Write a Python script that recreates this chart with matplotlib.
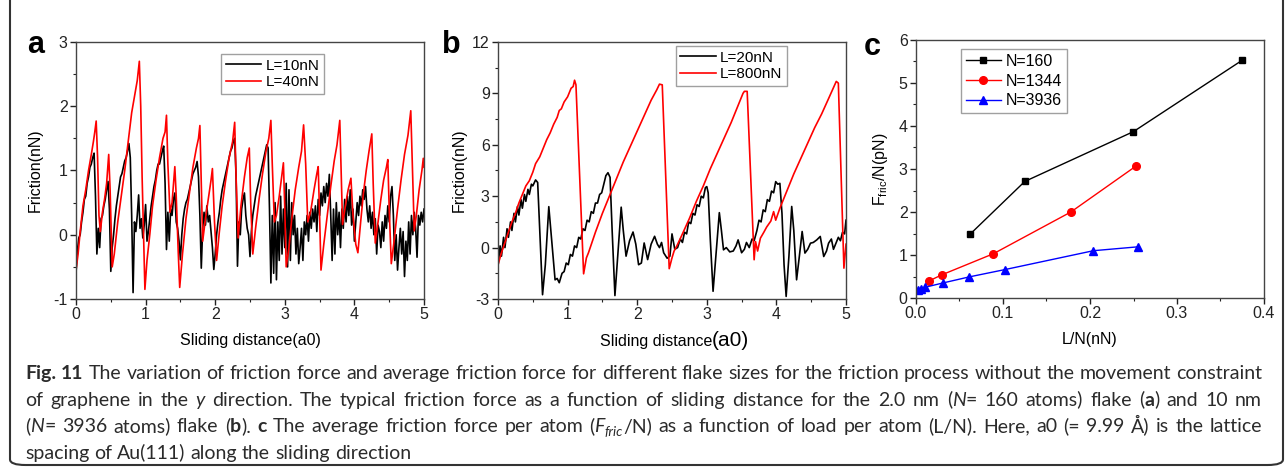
import numpy as np
import matplotlib
matplotlib.use("Agg")
import matplotlib.pyplot as plt
from matplotlib.ticker import MultipleLocator, FormatStrFormatter
from matplotlib.patches import FancyBboxPatch
from matplotlib import font_manager

# ---- panel a : L=10nN (black) and L=40nN (red), 2.0 nm flake
a_black_x = np.round(np.arange(0, 5.001, 0.02), 2)
a_black_y = [
    -0.60, -0.25, -0.05, 0.00, 0.20, 0.35, 0.55, 0.60, 0.80, 0.90,
    1.05, 1.10, 1.20, 1.27, 0.60, -0.30, 0.10, -0.20, 0.25, 0.30,
    0.45, 0.55, 0.70, 0.83, 0.40, -0.57, -0.20, 0.00, 0.25, 0.45,
    0.60, 0.75, 0.90, 0.95, 1.05, 1.15, 1.20, 1.30, 1.42, 1.20,
    0.30, -0.90, 0.20, 0.05, 0.30, 0.62, 0.10, 0.25, -0.05, 0.15,
    0.47, -0.10, 0.05, 0.25, 0.45, 0.60, 0.75, 0.85, 1.00, 1.10,
    1.10, 1.20, 1.30, 1.38, 0.80, -0.23, 0.35, -0.10, 0.40, 0.30,
    0.55, 0.65, 0.20, 0.10, -0.10, -0.39, 0.00, 0.25, 0.40, 0.50,
    0.55, 0.65, 0.75, 0.85, 0.95, 1.00, 1.05, 1.14, 0.90, 0.30,
    -0.52, 0.10, 0.35, 0.15, 0.45, 0.20, 0.30, 0.05, -0.20, -0.54,
    -0.30, 0.00, 0.20, 0.35, 0.55, 0.70, 0.80, 0.90, 1.00, 1.10,
    1.20, 1.30, 1.35, 1.45, 1.50, 0.90, -0.49, 0.20, 0.00, 0.40,
    0.55, 0.65, 0.30, 0.10, 0.00, -0.34, 0.05, 0.30, 0.45, 0.60,
    0.70, 0.80, 0.90, 1.00, 1.10, 1.20, 1.30, 1.40, 1.35, 0.40,
    -0.75, 0.30, -0.60, 0.50, -0.70, 0.20, -0.40, 0.60, -0.30, 0.40,
    -0.20, 0.80, -0.50, 0.70, -0.40, 0.50, 0.00, 0.30, -0.30, 0.10,
    -0.45, -0.20, 0.10, -0.40, 0.20, 0.00, 0.30, -0.10, 0.35, 0.10,
    0.40, 0.20, 0.45, 0.05, 0.55, 0.30, 0.65, 0.45, 0.75, 0.50,
    0.80, 0.60, 0.94, 0.30, -0.40, 0.40, -0.30, 0.50, 0.00, 0.35,
    -0.20, 0.40, 0.10, 0.55, 0.20, 0.60, 0.30, 0.70, 0.15, 0.40,
    -0.10, 0.20, 0.50, 0.30, 0.60, 0.45, 0.70, 0.55, 0.75, 0.40,
    0.20, 0.45, 0.10, 0.35, 0.00, 0.25, -0.30, 0.15, 0.05, -0.20,
    0.20, -0.10, 0.30, 0.10, 0.45, 0.20, 0.60, 0.75, 0.30, -0.40,
    0.00, -0.55, -0.20, 0.10, -0.30, 0.05, -0.65, -0.10, -0.40, 0.20,
    -0.30, 0.30, 0.00, 0.35, 0.10, -0.35, 0.30, 0.15, 0.35, 0.20, 0.40,
]
a_red_x = [
    0.00, 0.03, 0.06, 0.10, 0.14, 0.18, 0.22, 0.25, 0.27, 0.29, 0.31, 0.33, 0.35,
    0.38, 0.41, 0.44, 0.47, 0.49, 0.52, 0.55, 0.60, 0.65, 0.70, 0.75, 0.80, 0.84,
    0.88, 0.91, 0.93, 0.95, 0.97, 0.99, 1.02, 1.06, 1.10, 1.15, 1.20, 1.25, 1.28,
    1.30, 1.32, 1.35, 1.38, 1.42, 1.44, 1.47, 1.49, 1.53, 1.58, 1.63, 1.68, 1.73,
    1.76, 1.78, 1.80, 1.82, 1.86, 1.90, 1.94, 1.96, 1.99, 2.02, 2.06, 2.10, 2.15,
    2.20, 2.25, 2.28, 2.30, 2.33, 2.37, 2.42, 2.46, 2.49, 2.51, 2.54, 2.58, 2.63,
    2.68, 2.73, 2.77, 2.80, 2.82, 2.85, 2.88, 2.92, 2.96, 2.98, 3.00, 3.02, 3.06,
    3.10, 3.15, 3.20, 3.24, 3.27, 3.30, 3.33, 3.37, 3.42, 3.46, 3.48, 3.50, 3.52,
    3.56, 3.61, 3.66, 3.71, 3.75, 3.79, 3.81, 3.83, 3.87, 3.91, 3.95, 3.98, 4.02,
    4.05, 4.09, 4.13, 4.17, 4.21, 4.25, 4.27, 4.30, 4.34, 4.38, 4.42, 4.46, 4.48,
    4.50, 4.53, 4.57, 4.62, 4.67, 4.72, 4.77, 4.81, 4.83, 4.86, 4.89, 4.93, 4.97,
    4.99, 5.00,
]
a_red_y = [
    -0.55, -0.30, 0.05, 0.45, 0.70, 1.00, 1.25, 1.45, 1.60, 1.77, 1.20, 0.30, 0.05,
    0.35, 0.55, 0.80, 1.25, 0.70, -0.50, -0.30, 0.20, 0.60, 1.00, 1.45, 1.90, 2.15,
    2.40, 2.70, 2.00, 0.90, 0.00, -0.85, -0.40, 0.00, 0.45, 0.85, 1.20, 1.50, 1.60,
    1.86, 1.10, 0.35, 0.50, 1.06, 0.60, -0.30, -0.82, -0.30, 0.25, 0.65, 1.05, 1.35,
    1.50, 1.70, 0.80, -0.10, 0.25, 0.55, 0.85, 1.03, 0.20, -0.40, 0.05, 0.45, 0.85,
    1.20, 1.45, 1.75, 0.90, -0.05, 0.45, 0.90, 1.20, 1.35, 0.50, -0.30, 0.10, 0.55,
    0.95, 1.30, 1.50, 1.78, 1.10, 0.20, 0.30, 0.60, 0.95, 1.12, 0.40, -0.50, -0.20,
    0.25, 0.70, 1.05, 1.30, 1.71, 1.10, 0.20, 0.35, 0.70, 0.95, 1.06, 0.30, -0.55,
    -0.15, 0.30, 0.75, 1.15, 1.40, 1.78, 1.00, 0.16, 0.45, 0.70, 0.88, 0.30, -0.15,
    -0.28, 0.20, 0.65, 1.00, 1.30, 1.57, 0.80, -0.13, 0.20, 0.55, 0.85, 1.05, 1.17,
    0.40, -0.45, -0.10, 0.40, 0.85, 1.25, 1.55, 1.93, 1.20, 0.06, 0.30, 0.70, 1.00,
    1.19, 1.05,
]

# ---- panel b : L=20nN (black) and L=800nN (red), 10 nm flake
b_black_x = [
    0.00, 0.03, 0.05, 0.08, 0.10, 0.13, 0.15, 0.18, 0.20, 0.23, 0.25, 0.28, 0.30,
    0.33, 0.35, 0.38, 0.40, 0.43, 0.45, 0.48, 0.50, 0.54, 0.57, 0.60, 0.64, 0.68,
    0.73, 0.77, 0.82, 0.85, 0.88, 0.92, 0.95, 0.98, 1.01, 1.04, 1.07, 1.10, 1.13,
    1.16, 1.19, 1.22, 1.25, 1.28, 1.31, 1.34, 1.37, 1.40, 1.43, 1.46, 1.49, 1.52,
    1.55, 1.58, 1.61, 1.64, 1.68, 1.72, 1.77, 1.80, 1.84, 1.89, 1.94, 1.98, 2.02,
    2.06, 2.10, 2.15, 2.20, 2.25, 2.29, 2.32, 2.35, 2.38, 2.43, 2.47, 2.50, 2.54,
    2.58, 2.62, 2.65, 2.68, 2.71, 2.74, 2.77, 2.80, 2.83, 2.86, 2.89, 2.92, 2.95,
    2.98, 3.00, 3.02, 3.05, 3.09, 3.13, 3.18, 3.21, 3.24, 3.28, 3.33, 3.38, 3.42,
    3.45, 3.50, 3.54, 3.57, 3.61, 3.65, 3.68, 3.72, 3.75, 3.78, 3.81, 3.84, 3.87,
    3.90, 3.93, 3.96, 3.99, 4.02, 4.05, 4.08, 4.11, 4.14, 4.18, 4.22, 4.25, 4.29,
    4.33, 4.37, 4.41, 4.45, 4.49, 4.53, 4.58, 4.63, 4.68, 4.72, 4.75, 4.79, 4.82,
    4.86, 4.89, 4.92, 4.95, 4.98, 5.00,
]
b_black_y = [
    -1.10, 0.10, -0.50, 0.60, 0.00, 1.10, 0.60, 1.50, 1.00, 2.00, 1.50, 2.40, 1.90,
    2.80, 2.30, 3.10, 2.70, 3.40, 3.10, 3.70, 3.60, 3.95, 3.80, 1.00, -2.75, -1.00,
    2.39, 0.50, -1.88, -1.80, -2.05, -1.50, -1.40, -0.90, -1.00, -0.40, -0.50, 0.10, 0.00,
    0.60, 0.50, 1.10, 1.00, 1.60, 1.50, 2.10, 2.00, 2.60, 2.60, 3.10, 3.20, 3.70,
    4.20, 4.37, 4.10, 1.00, -2.80, -0.50, 2.36, 1.00, -0.50, 0.40, 0.91, 0.20, -1.00,
    -0.90, 0.27, -0.70, 0.20, 0.66, 0.20, 0.00, 0.30, -0.30, -0.62, -0.50, 0.80, -0.10,
    0.00, 0.50, 0.30, 0.90, 0.80, 1.50, 1.40, 2.00, 1.90, 2.50, 2.40, 3.00, 2.90,
    3.50, 3.56, 3.20, 0.50, -2.55, -0.50, 2.04, 1.00, -0.13, 0.00, -0.25, -0.20, 0.10,
    0.45, -0.30, -0.10, 0.30, 0.00, 0.50, 0.40, 1.00, 1.60, 1.50, 2.20, 2.10, 2.80,
    2.70, 3.30, 3.20, 3.85, 3.70, 3.75, 2.00, -1.00, -2.85, -0.50, 2.40, 1.00, -1.88,
    -0.50, 0.94, -0.32, -0.10, 0.26, 0.30, 0.45, 0.65, -0.52, -0.20, 0.26, 0.50, -0.10,
    0.30, 0.60, 0.40, 0.90, 0.80, 1.60,
]
b_red_x = [
    0.00, 0.05, 0.10, 0.15, 0.20, 0.25, 0.30, 0.35, 0.40, 0.45, 0.50, 0.54, 0.60,
    0.65, 0.70, 0.75, 0.80, 0.85, 0.88, 0.91, 0.95, 1.00, 1.05, 1.08, 1.10, 1.12,
    1.23, 1.27, 1.30, 1.40, 1.50, 1.60, 1.70, 1.80, 1.90, 2.00, 2.10, 2.20, 2.28,
    2.32, 2.36, 2.46, 2.50, 2.53, 2.57, 2.65, 2.75, 2.85, 2.95, 3.05, 3.15, 3.25,
    3.35, 3.45, 3.52, 3.54, 3.58, 3.68, 3.70, 3.73, 3.77, 3.82, 3.86, 3.92, 3.96,
    3.99, 4.05, 4.15, 4.25, 4.35, 4.45, 4.55, 4.65, 4.75, 4.86, 4.89, 4.97, 5.00,
]
b_red_y = [
    -1.00, -0.30, 0.30, 0.90, 1.50, 2.00, 2.60, 3.10, 3.60, 3.90, 4.40, 4.90, 5.30,
    5.80, 6.30, 6.70, 7.20, 7.60, 8.00, 8.10, 8.50, 8.80, 9.30, 9.40, 9.77, 9.50,
    -1.53, -0.60, -0.30, 0.90, 2.00, 3.00, 4.00, 5.00, 5.90, 6.80, 7.70, 8.60, 9.20,
    9.54, 9.50, -1.23, -0.60, -0.20, 0.10, 0.80, 1.70, 2.70, 3.60, 4.60, 5.50, 6.40,
    7.30, 8.30, 9.00, 9.12, 9.12, -0.71, 0.35, -0.20, 0.55, 0.90, 1.20, 1.55, 2.10,
    1.60, 2.30, 3.30, 4.30, 5.20, 6.10, 7.00, 7.80, 8.70, 9.70, 9.60, -1.20, 0.20,
]

# ---- panel c : average friction per atom vs load per atom
c_n160_x = [0.0625, 0.125, 0.25, 0.375]
c_n160_y = [1.49, 2.71, 3.87, 5.53]
c_n1344_x = [0.0153, 0.0298, 0.089, 0.178, 0.253]
c_n1344_y = [0.40, 0.54, 1.03, 2.00, 3.07]
c_n3936_x = [0.002, 0.006, 0.0105, 0.031, 0.061, 0.102, 0.204, 0.255]
c_n3936_y = [0.18, 0.21, 0.25, 0.35, 0.49, 0.66, 1.10, 1.19]

caption = [
    [("Fig. 11", "b"), (" The variation of friction force and average friction force for different "
                        "flake sizes for the friction process without the movement constraint", "n")],
    [("of graphene in the ", "n"), ("y", "i"),
     (" direction. The typical friction force as a function of sliding distance for the 2.0 nm (", "n"),
     ("N", "i"), ("= 160 atoms) flake (", "n"), ("a", "b"), (") and 10 nm", "n")],
    [("(", "n"), ("N", "i"), ("= 3936 atoms) flake (", "n"), ("b", "b"), ("). ", "n"), ("c", "b"),
     (" The average friction force per atom (", "n"), ("F", "i"), ("fric", "s"),
     ("/N) as a function of load per atom (L/N). Here, a0 (= 9.99 Å) is the lattice", "n")],
    [("spacing of Au(111) along the sliding direction", "n")],
]

plt.rcParams["font.family"] = ["Liberation Sans", "DejaVu Sans"]
plt.rcParams["axes.unicode_minus"] = False
plt.rcParams["mathtext.fontset"] = "custom"
plt.rcParams["mathtext.rm"] = "Liberation Sans"

W, H = 1287, 469
fig = plt.figure(figsize=(W / 100, H / 100), dpi=100)


def px_axes(left, top, right, bottom):
    return fig.add_axes([left / W, 1 - bottom / H, (right - left) / W, (bottom - top) / H])


def style(ax, xmaj, xmin, ymaj, ymin):
    ax.xaxis.set_major_locator(MultipleLocator(xmaj))
    ax.xaxis.set_minor_locator(MultipleLocator(xmin))
    ax.yaxis.set_major_locator(MultipleLocator(ymaj))
    ax.yaxis.set_minor_locator(MultipleLocator(ymin))
    ax.tick_params(which="both", direction="out", top=False, right=False,
                   labelsize=11.5, colors="#222222", pad=2)
    ax.tick_params(which="major", length=4, width=1)
    ax.tick_params(which="minor", length=2.5, width=0.8)
    for s in ax.spines.values():
        s.set_color("#444444")
        s.set_linewidth(1.0)


leg_kw = dict(frameon=True, fancybox=False, edgecolor="#888888", borderaxespad=0,
              handlelength=2.3, handletextpad=0.3, labelspacing=0.15, borderpad=0.3,
              fontsize=11)

# panel a
ax1 = px_axes(76, 42, 424, 299)
ax1.plot(a_black_x, a_black_y, color="black", lw=1.2, label="L=10nN")
ax1.plot(a_red_x, a_red_y, color="red", lw=1.2, label="L=40nN")
ax1.set_xlim(0, 5)
ax1.set_ylim(-1, 3)
style(ax1, 1, 0.5, 1, 0.5)
ax1.set_ylabel("Friction(nN)", fontsize=11.5, labelpad=8)
ax1.set_xlabel("Sliding distance(a0)", fontsize=11.5, labelpad=8)
ax1.legend(loc="upper left", bbox_to_anchor=(0.417, 0.953), **leg_kw)

# panel b
ax2 = px_axes(498, 42, 846, 299)
ax2.plot(b_black_x, b_black_y, color="black", lw=1.2, label="L=20nN")
ax2.plot(b_red_x, b_red_y, color="red", lw=1.2, label="L=800nN")
ax2.set_xlim(0, 5)
ax2.set_ylim(-3, 12)
style(ax2, 1, 0.5, 3, 1.5)
ax2.set_ylabel("Friction(nN)", fontsize=11.5, labelpad=4)
ax2.text(0.615, -0.165, "Sliding distance", transform=ax2.transAxes, ha="right",
         va="center", fontsize=11.5)
ax2.text(0.615, -0.16, "(a0)", transform=ax2.transAxes, ha="left", va="center",
         fontsize=15)
ax2.legend(loc="upper left", bbox_to_anchor=(0.511, 0.984), **leg_kw)

# panel c
ax3 = px_axes(916, 40, 1264, 298)
ax3.plot(c_n160_x, c_n160_y, color="black", lw=1, marker="s", ms=4.5, label="N=160")
ax3.plot(c_n1344_x, c_n1344_y, color="red", lw=1, marker="o", ms=5.5, label="N=1344")
ax3.plot(c_n3936_x, c_n3936_y, color="blue", lw=1, marker="^", ms=5.5, label="N=3936")
ax3.set_xlim(0, 0.4)
ax3.set_ylim(0, 6)
style(ax3, 0.1, 0.05, 1, 0.5)
ax3.xaxis.set_major_formatter(FormatStrFormatter("%.1f"))
ax3.set_ylabel(r"F$_{\mathregular{fric}}$/N(pN)", fontsize=11.5, labelpad=6)
ax3.set_xlabel("L/N(nN)", fontsize=11.5, labelpad=8)
ax3.legend(loc="upper left", bbox_to_anchor=(0.129, 0.965),
           **dict(leg_kw, handlelength=2.2, labelspacing=0.3, fontsize=11.5))

# panel letters
for x, y, s in [(27, 45, "a"), (442, 45, "b"), (864, 47, "c")]:
    fig.text(x / W, 1 - y / H, s, fontsize=22, fontweight="bold", va="center", ha="left")

# border around the whole figure
fig.patches.append(FancyBboxPatch((10 / W, 1 - 465 / H), 1273 / W, 480 / H,
                                  boxstyle="round,pad=0,rounding_size=0.012",
                                  transform=fig.transFigure, fill=False,
                                  ec="#333333", lw=1.5))

# caption, justified word by word
renderer = fig.canvas.get_renderer()
installed = {f.name for f in font_manager.fontManager.ttflist}
cap_font = ["Liberation Sans Narrow", "Lato"] if "Liberation Sans Narrow" in installed else ["Lato"]
cap_color = "#2b2b2b"


def word_kw(st, size):
    kw = dict(family=cap_font, color=cap_color, fontsize=size, ha="left", va="baseline")
    if st == "b":
        kw["fontweight"] = "bold"
    if st in ("i", "s"):
        kw["fontstyle"] = "italic"
    if st == "s":
        kw["fontsize"] = size * 0.7
    return kw


def split_words(segs):
    words, space = [], False
    for text, st in segs:
        for k, p in enumerate(text.split(" ")):
            if k > 0:
                space = True
            if p:
                words.append((p, st, space))
                space = False
    return words


def measure(words, size):
    out = []
    for p, st, sp in words:
        t = fig.text(0, 0, p, **word_kw(st, size))
        out.append((t, t.get_window_extent(renderer).width, sp, st))
    return out


def space_width(size):
    t1 = fig.text(0, 0, "a a", **word_kw("n", size))
    t2 = fig.text(0, 0, "aa", **word_kw("n", size))
    w = t1.get_window_extent(renderer).width - t2.get_window_extent(renderer).width
    t1.remove()
    t2.remove()
    return w


x0, x1 = 25, 1262
size = 14.0
for _ in range(3):
    sw = space_width(size)
    worst = 1.0
    for segs in caption[:3]:
        items = measure(split_words(segs), size)
        nat = sum(w for _, w, _, _ in items) + sw * sum(1 for it in items if it[2])
        worst = min(worst, (x1 - x0) / nat)
        for it in items:
            it[0].remove()
    if worst >= 1.0:
        break
    size *= worst * 0.99

sw = space_width(size)
baselines = [379, 405.5, 432, 458.5]
for i, segs in enumerate(caption):
    items = measure(split_words(segs), size)
    nsp = sum(1 for it in items if it[2])
    total = sum(w for _, w, _, _ in items)
    gap = (x1 - x0 - total) / nsp if i < 3 else sw
    x = x0
    for t, w, sp, st in items:
        if sp:
            x += gap
        yb = baselines[i] + (4 if st == "s" else 0)
        t.set_position((x / W, 1 - yb / H))
        x += w

fig.savefig("out.png", dpi=100)
